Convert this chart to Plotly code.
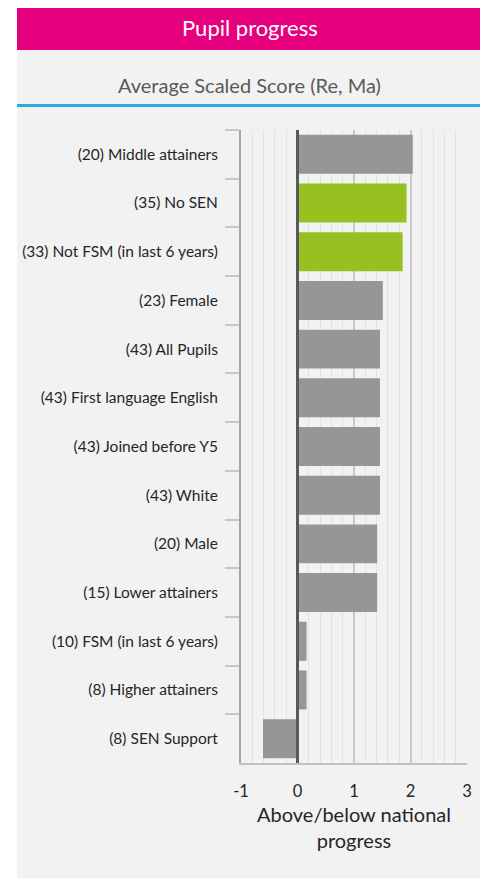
import plotly.graph_objects as go

categories = [
    "(20) Middle attainers",
    "(35) No SEN",
    "(33) Not FSM (in last 6 years)",
    "(23) Female",
    "(43) All Pupils",
    "(43) First language English",
    "(43) Joined before Y5",
    "(43) White",
    "(20) Male",
    "(15) Lower attainers",
    "(10) FSM (in last 6 years)",
    "(8) Higher attainers",
    "(8) SEN Support",
]
values = [2.04, 1.93, 1.86, 1.51, 1.46, 1.46, 1.46, 1.46, 1.41, 1.41, 0.16, 0.16, -0.61]
highlighted = ["(35) No SEN", "(33) Not FSM (in last 6 years)"]
x_tick_values = [-1, 0, 1, 2, 3]
x_tick_labels = ["-1", "0", "1", "2", "3"]

GREY = "#969696"
GREEN = "#97c121"
colors = [GREEN if c in highlighted else GREY for c in categories]

FONT = "Lato"
OFF = 8  # default page body margin
W, H = 488 - OFF, 878 - OFF
L = 241 - OFF
R = W - (467 - OFF)
T = 130 - OFF
B = H - (763 - OFF)
pw, ph = W - L - R, H - T - B


def px(x):
    # page x -> paper coordinate
    return (x - OFF - L) / pw


def py(y):
    # page y -> paper coordinate
    return (H - B - (y - OFF)) / ph


fig = go.Figure(
    go.Bar(
        y=categories,
        x=values,
        orientation="h",
        marker=dict(color=colors, line=dict(width=0)),
        hoverinfo="x+y",
    )
)

shapes = [
    dict(type="rect", xref="paper", yref="paper", x0=px(17), x1=px(482),
         y0=py(900), y1=py(50), fillcolor="#f2f2f2", line=dict(width=0), layer="below"),
    dict(type="rect", xref="paper", yref="paper", x0=px(17), x1=px(482),
         y0=py(50), y1=py(6), fillcolor="#e6007e", line=dict(width=0), layer="below"),
    dict(type="rect", xref="paper", yref="paper", x0=px(17), x1=px(482),
         y0=py(107), y1=py(104), fillcolor="#29abe2", line=dict(width=0), layer="below"),
    dict(type="line", xref="x", yref="paper", x0=0, x1=0, y0=0, y1=1,
         line=dict(color="#595959", width=3), layer="above"),
]

annotations = [
    dict(text="Pupil progress", xref="paper", yref="paper", x=px(249.5), y=py(28),
         xanchor="center", yanchor="middle", showarrow=False,
         font=dict(family=FONT, size=22, color="white")),
    dict(text="Average Scaled Score (Re, Ma)", xref="paper", yref="paper", x=px(249.5), y=py(85),
         xanchor="center", yanchor="middle", showarrow=False,
         font=dict(family=FONT, size=20, color="#595959")),
]

fig.update_layout(
    width=W, height=H,
    margin=dict(l=L, r=R, t=T, b=B, pad=0),
    paper_bgcolor="white",
    plot_bgcolor="#f2f2f2",
    shapes=shapes,
    annotations=annotations,
    bargap=0.2,
    showlegend=False,
    font=dict(family=FONT, color="#262626"),
)

fig.update_xaxes(
    range=[-1, 3],
    tickvals=x_tick_values,
    ticktext=x_tick_labels,
    ticks="",
    ticklabelstandoff=12,
    tickfont=dict(size=16.5, color="#262626"),
    showgrid=True, gridcolor="#c8c8c8", gridwidth=1.5,
    minor=dict(dtick=0.2, showgrid=True, gridcolor="#e2e2e2", gridwidth=1),
    zeroline=False,
    showline=True, linecolor="#c0c0c0", linewidth=2,
    title=dict(text="Above/below national<br>progress", font=dict(size=20, color="#262626"), standoff=8),
    fixedrange=True,
)

fig.update_yaxes(
    categoryorder="array",
    categoryarray=categories,
    autorange="reversed",
    tickson="boundaries",
    ticks="outside", ticklen=14, tickcolor="#c8c8c8", tickwidth=2,
    ticklabelstandoff=18,
    tickfont=dict(size=15.5, color="#262626"),
    showgrid=False,
    showline=True, linecolor="#a6a6a6", linewidth=2,
    fixedrange=True,
)

fig.write_html("out.html")
